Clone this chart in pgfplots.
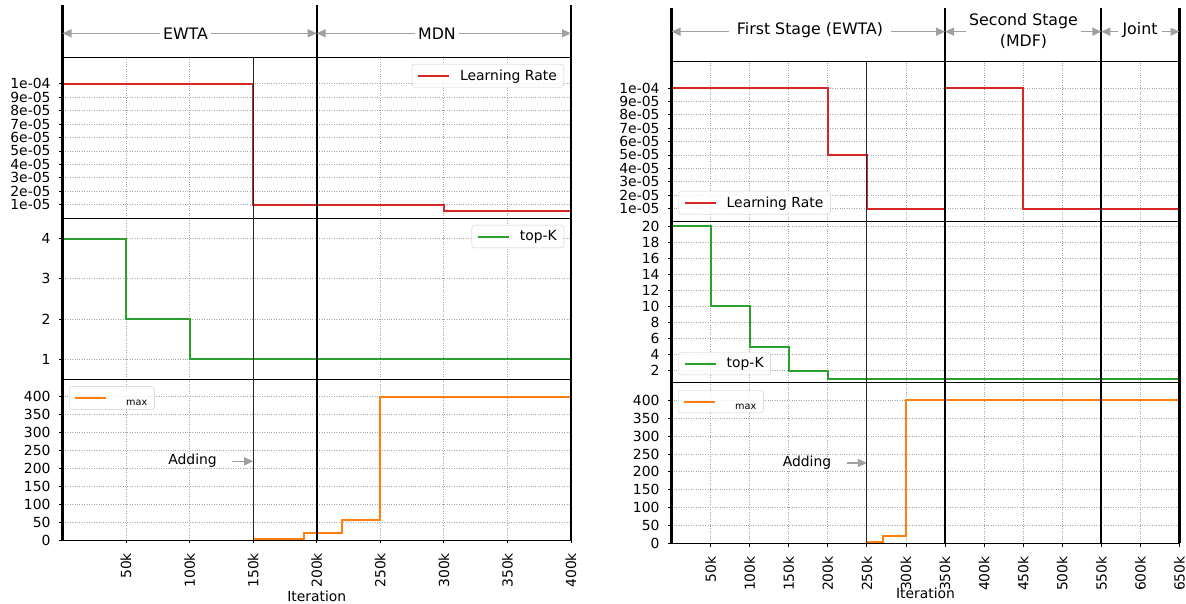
\documentclass[border=0pt]{standalone}
\usepackage{fontspec}
\setmainfont{DejaVu Sans}
\usepackage{pgfplots}
\pgfplotsset{compat=1.18}
\usetikzlibrary{arrows.meta}
\definecolor{cred}{HTML}{D62728}
\definecolor{cgreen}{HTML}{2CA02C}
\definecolor{corange}{HTML}{FF7F0E}
\definecolor{arrgray}{HTML}{A0A0A0}
\newcommand{\tfont}{\fontsize{13.9}{16}\selectfont}
\newcommand{\hfont}{\fontsize{15.8}{21.5}\selectfont}
\pgfplotsset{
  panel/.style={
    scale only axis, xmin=0,
    scaled x ticks=false, scaled y ticks=false,
    axis line style={black, line width=0.9pt},
    grid=major,
    grid style={dotted, black!35, line width=0.8pt},
    tick align=outside, tick pos=left,
    major tick length=3.5pt,
    every tick/.style={black, line width=0.8pt},
    /pgf/number format/assume math mode=true,
    ticklabel style={font=\tfont},
    yticklabel style={xshift=-5pt},
    label style={font=\tfont},
    legend cell align=left,
    legend style={draw=black!20, rounded corners=2.5pt, fill=white, fill opacity=0.8, text opacity=1, font=\tfont, inner xsep=5pt, inner ysep=3.5pt, column sep=8pt, nodes={inner sep=2pt}},
    legend image code/.code={\draw[##1] (0pt,0pt) -- (31pt,0pt);},
  },
  upper/.style={xmajorticks=false, xticklabels={}},
  dline/.style={line width=2pt, const plot},
  lrax/.style={ymin=0, ymax=1.2e-4,
    ytick={0.00001,0.00002,0.00003,0.00004,0.00005,0.00006,0.00007,0.00008,0.00009,0.0001},
    yticklabels={1e-05,2e-05,3e-05,4e-05,5e-05,6e-05,7e-05,8e-05,9e-05,1e-04}},
  lamax/.style={ymin=0, ymax=450, ytick={0,50,100,150,200,250,300,350,400},
    xticklabel style={yshift=-6pt, rotate=90, anchor=east},
    xlabel={Iteration}, xlabel style={yshift=4pt}},
}
\tikzset{
  hdr/.style={arrgray, line width=1.5pt, {Triangle[length=9pt,width=8pt]}-{Triangle[length=9pt,width=8pt]}},
  hlab/.style={fill=white, text=black, font=\hfont, inner xsep=3pt, inner ysep=1pt},
}
\newcommand{\lamentry}{\vphantom{Lg}\hspace{9pt}\raisebox{-3.5pt}{\fontsize{9.7}{10}\selectfont max}}
\begin{document}
\begin{tikzpicture}
\useasboundingbox (0pt,0pt) rectangle (1186pt,604pt);
% ===== LEFT CHART =====
\begin{axis}[panel, upper, lrax, at={(62.5pt,386pt)}, anchor=south west, width=508.5pt, height=161pt,
  xmax=400000, xtick={50000,100000,150000,200000,250000,300000,350000,400000},
  legend style={at={(1,1)}, anchor=north east, xshift=-7pt, yshift=-7pt}]
\addplot[cred, dline] coordinates {(0,0.0001) (150000,0.00001) (300000,0.000005) (400000,0.000005)};
\addlegendentry{Learning Rate}
\end{axis}
\begin{axis}[panel, upper, at={(62.5pt,225pt)}, anchor=south west, width=508.5pt, height=161pt,
  xmax=400000, xtick={50000,100000,150000,200000,250000,300000,350000,400000},
  ymin=0.5, ymax=4.52, ytick={1,2,3,4},
  legend style={at={(1,1)}, anchor=north east, xshift=-7pt, yshift=-7pt}]
\addplot[cgreen, dline] coordinates {(0,4) (50000,2) (100000,1) (400000,1)};
\addlegendentry{top-K}
\end{axis}
\begin{axis}[panel, lamax, clip=false, at={(62.5pt,64pt)}, anchor=south west, width=508.5pt, height=161pt,
  xmax=400000, xtick={50000,100000,150000,200000,250000,300000,350000,400000},
  xticklabels={50k,100k,150k,200k,250k,300k,350k,400k},
  legend style={at={(0,1)}, anchor=north west, xshift=6.5pt, yshift=-7.5pt}]
\addplot[corange, dline] coordinates {(150000,2) (190000,20) (220000,55) (250000,400) (400000,400)};
\addlegendentry{\lamentry}
\node[anchor=east, font=\tfont, inner sep=0pt] at (axis cs:121500,222) {Adding};
\draw[arrgray, line width=1.5pt, -{Triangle[length=9pt,width=8pt]}] (axis cs:133000,220) -- (axis cs:150000,220);
\draw[black, line width=2.2pt] (axis cs:0,0) -- ++(0pt,535pt);
\draw[black, line width=2.2pt] (axis cs:200000,0) -- ++(0pt,535pt);
\draw[black, line width=2.2pt] (axis cs:400000,0) -- ++(0pt,535pt);
\draw[black!85, line width=1pt] (axis cs:150000,0) -- ++(0pt,483pt);
\end{axis}
% header left
\draw[hdr] (62.5pt,570.7pt) -- (316.7pt,570.7pt);
\draw[hdr] (316.7pt,570.7pt) -- (571pt,570.7pt);
\node[hlab] at (185.5pt,570pt) {EWTA};
\node[hlab] at (437pt,570pt) {MDN};
% ===== RIGHT CHART =====
\begin{axis}[panel, upper, lrax, at={(671.5pt,382.1pt)}, anchor=south west, width=508pt, height=160.7pt,
  xmax=650000, xtick={50000,100000,150000,200000,250000,300000,350000,400000,450000,500000,550000,600000,650000},
  legend style={at={(0,0)}, anchor=south west, xshift=7pt, yshift=7.5pt}]
\addplot[cred, dline] coordinates {(0,0.0001) (200000,0.00005) (250000,0.00001) (350000,0.0001) (450000,0.00001) (650000,0.00001)};
\addlegendentry{Learning Rate}
\end{axis}
\begin{axis}[panel, upper, at={(671.5pt,221.4pt)}, anchor=south west, width=508pt, height=160.7pt,
  xmax=650000, xtick={50000,100000,150000,200000,250000,300000,350000,400000,450000,500000,550000,600000,650000},
  ymin=0.5, ymax=20.54, ytick={2,4,6,8,10,12,14,16,18,20},
  legend style={at={(0,0)}, anchor=south west, xshift=7pt, yshift=7.5pt}]
\addplot[cgreen, dline] coordinates {(0,20) (50000,10) (100000,5) (150000,2) (200000,1) (650000,1)};
\addlegendentry{top-K}
\end{axis}
\begin{axis}[panel, lamax, clip=false, at={(671.5pt,60.7pt)}, anchor=south west, width=508pt, height=160.7pt,
  xmax=650000, xtick={50000,100000,150000,200000,250000,300000,350000,400000,450000,500000,550000,600000,650000},
  xticklabels={50k,100k,150k,200k,250k,300k,350k,400k,450k,500k,550k,600k,650k},
  xlabel style={yshift=5.5pt},
  legend style={at={(0,1)}, anchor=north west, xshift=6.5pt, yshift=-7.5pt}]
\addplot[corange, dline] coordinates {(250000,3) (270000,20) (300000,400) (650000,400)};
\addlegendentry{\lamentry}
\node[anchor=east, font=\tfont, inner sep=0pt] at (axis cs:204600,227) {Adding};
\draw[arrgray, line width=1.5pt, -{Triangle[length=9pt,width=8pt]}] (axis cs:225000,225) -- (axis cs:250000,225);
\draw[black, line width=2.2pt] (axis cs:0,0) -- ++(0pt,535pt);
\draw[black, line width=2.2pt] (axis cs:350000,0) -- ++(0pt,535pt);
\draw[black, line width=2.2pt] (axis cs:550000,0) -- ++(0pt,535pt);
\draw[black, line width=2.2pt] (axis cs:650000,0) -- ++(0pt,535pt);
\draw[black!85, line width=1pt] (axis cs:250000,0) -- ++(0pt,482.3pt);
\end{axis}
% header right
\draw[hdr] (671.5pt,572.3pt) -- (945pt,572.3pt);
\draw[hdr] (945pt,572.3pt) -- (1101.3pt,572.3pt);
\draw[hdr] (1101.3pt,572.3pt) -- (1179.5pt,572.3pt);
\node[hlab, inner xsep=8pt] at (810pt,574pt) {First Stage (EWTA)};
\node[hlab, align=center] at (1023.5pt,573pt) {Second Stage\\(MDF)};
\node[hlab, inner xsep=5pt] at (1140pt,574pt) {Joint};
\end{tikzpicture}
\end{document}
